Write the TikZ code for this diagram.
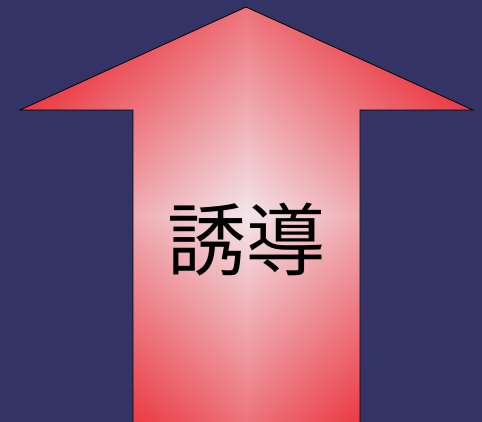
\documentclass[tikz,border=0pt]{standalone}
\usepackage{fontspec}
\newfontfamily\cjk{Noto Sans CJK JP}
\definecolor{bgnavy}{RGB}{51,51,102}
\pgfdeclarefunctionalshading{diamondgrad}{\pgfpointorigin}{\pgfpoint{100bp}{100bp}}{}{%
  50 sub abs exch 50 sub abs add 50 div
  dup 1 gt {pop 1} if
  dup dup
  -0.88 mul 0.92 add
  exch -0.90 mul 0.90 add
  exch
  3 -1 roll -0.04 mul 0.95 add
  3 1 roll
}
\tikzset{arrowshape/.style={draw=black, line width=0.8pt, shading=diamondgrad}}
\begin{document}
\begin{tikzpicture}[x=1pt,y=1pt]
\fill[bgnavy] (0,0) rectangle (482,422);
\useasboundingbox (0,0) rectangle (482,422);
\path[arrowshape] (133,-2) -- (133,312) -- (20,312) -- (246,415) -- (473,312) -- (360,312) -- (360,-2) -- cycle;
\node[font=\cjk\fontsize{79}{90}\selectfont, text=black, inner sep=0pt] (lbl) at (246,182) {誘導};
\end{tikzpicture}
\end{document}
